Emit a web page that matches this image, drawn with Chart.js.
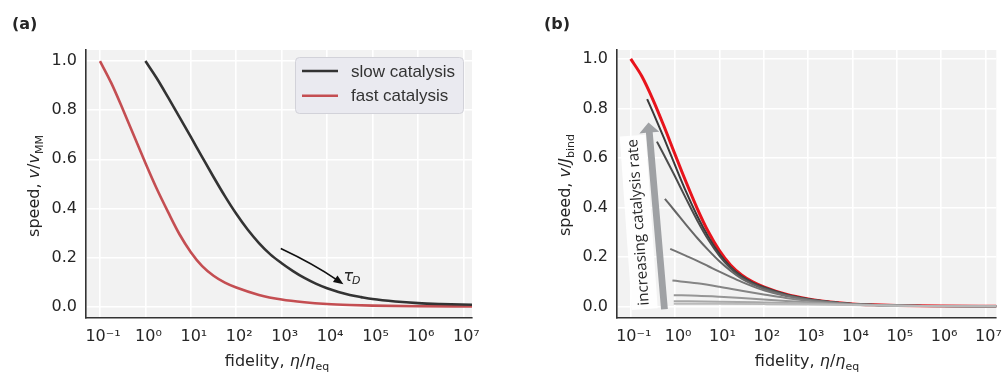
<!DOCTYPE html>
<html><head><meta charset="utf-8">
<script src="https://cdn.jsdelivr.net/npm/chart.js@4.4.0/dist/chart.umd.min.js"></script>
<style>
body{margin:0;background:#fff;width:1008px;height:373px;position:relative;overflow:hidden;font-family:"DejaVu Sans";color:#262626}
.pane{position:absolute;top:0;height:373px}
.lab{position:absolute;font-size:16px;line-height:20px;white-space:nowrap;text-align:center;height:20px}
.rot{transform:rotate(-90deg)}
sub{font-size:11px;vertical-align:-4px;line-height:0}
.panel{position:absolute;font-weight:bold;font-size:16px;line-height:18px}
</style></head><body>
<div class="pane" style="left:0;width:500px"><canvas id="ca" width="500" height="373"></canvas></div>
<div class="pane" style="left:500px;width:508px"><canvas id="cb" width="508" height="373"></canvas></div>
<div class="panel" style="left:12px;top:15px">(a)</div>
<div class="panel" style="left:544px;top:15px">(b)</div>
<div class="lab" style="left:127px;top:351px;width:300px">fidelity, <i>η</i>/<i>η</i><sub>eq</sub></div>
<div class="lab" style="left:657px;top:351px;width:300px">fidelity, <i>η</i>/<i>η</i><sub>eq</sub></div>
<div class="lab rot" style="left:-66.5px;top:175.5px;width:200px">speed, <i>v</i>/<i>v</i><sub>MM</sub></div>
<div class="lab rot" style="left:465px;top:175px;width:200px">speed, <i>v</i>/<i>J</i><sub>bind</sub></div>
<script>
// ---------- ticks ----------
const xTickExps = [-1, 0, 1, 2, 3, 4, 5, 6, 7];
const xTickLabels = ['10⁻¹','10⁰','10¹','10²','10³','10⁴','10⁵','10⁶','10⁷'];
const yTickValues = [0, 0.2, 0.4, 0.6, 0.8, 1.0];
const yTickLabels = ['0.0','0.2','0.4','0.6','0.8','1.0'];

// ---------- panel (a) data: x as log10(fidelity) ----------
const slowExp = [0, 0.25, 0.5, 0.75, 1.0, 1.25, 1.5, 1.75, 2.0, 2.25, 2.5, 2.75, 3.0, 3.25, 3.5, 3.75, 4.0, 4.25, 4.5, 4.75, 5.0, 5.5, 6.0, 6.5, 7.19];
const slowVal = [1.0, 0.93, 0.852, 0.772, 0.691, 0.609, 0.528, 0.45, 0.378, 0.314, 0.259, 0.213, 0.177, 0.145, 0.117, 0.094, 0.075, 0.06, 0.048, 0.039, 0.031, 0.021, 0.0145, 0.011, 0.008];
const fastExp = [-1, -0.75, -0.5, -0.25, 0, 0.25, 0.5, 0.75, 1.0, 1.25, 1.5, 1.75, 2.0, 2.5, 3.0, 3.5, 4.0, 4.5, 5.0, 6.0, 7.19];
const fastVal = [1.0, 0.91, 0.805, 0.695, 0.585, 0.48, 0.385, 0.295, 0.222, 0.165, 0.126, 0.098, 0.078, 0.048, 0.029, 0.018, 0.011, 0.007, 0.0045, 0.002, 0.001];

// ---------- panel (b) data ----------
const envExp = [-1, -0.75, -0.5, -0.25, 0, 0.25, 0.5, 0.75, 1.0, 1.25, 1.5, 1.75, 2.0, 2.5, 3.0, 3.5, 4.0, 4.5, 5.0, 6.0, 7.25];
const envVal = [1.0, 0.93, 0.836, 0.728, 0.614, 0.502, 0.396, 0.302, 0.226, 0.168, 0.128, 0.1, 0.08, 0.05, 0.031, 0.019, 0.011, 0.007, 0.0045, 0.002, 0.001];
const c1Exp = [-0.63, -0.5, -0.25, 0, 0.25, 0.5, 0.75, 1.0, 1.25, 1.5, 1.75, 2.0, 2.5, 3.0, 3.5, 4.0, 5.0, 6.0, 7.25];
const c1Val = [0.838, 0.785, 0.68, 0.57, 0.463, 0.366, 0.282, 0.213, 0.16, 0.123, 0.097, 0.078, 0.049, 0.0305, 0.0187, 0.0108, 0.0044, 0.002, 0.001];
const c2Exp = [-0.41, -0.25, 0, 0.25, 0.5, 0.75, 1.0, 1.25, 1.5, 1.75, 2.0, 2.5, 3.0, 3.5, 4.0, 5.0, 6.0, 7.25];
const c2Val = [0.666, 0.612, 0.525, 0.435, 0.348, 0.27, 0.205, 0.155, 0.119, 0.094, 0.076, 0.048, 0.03, 0.0185, 0.0107, 0.0044, 0.002, 0.001];
const c3Exp = [-0.23, 0, 0.25, 0.5, 0.75, 1.0, 1.25, 1.5, 1.75, 2.0, 2.5, 3.0, 3.5, 4.0, 5.0, 6.0, 7.25];
const c3Val = [0.435, 0.385, 0.33, 0.277, 0.228, 0.183, 0.145, 0.113, 0.09, 0.072, 0.046, 0.029, 0.018, 0.0105, 0.0043, 0.002, 0.001];
const c4Exp = [-0.11, 0.25, 0.5, 0.75, 1.0, 1.25, 1.5, 1.75, 2.0, 2.5, 3.0, 3.5, 4.0, 5.0, 6.0, 7.25];
const c4Val = [0.233, 0.205, 0.185, 0.163, 0.141, 0.12, 0.1, 0.082, 0.066, 0.043, 0.028, 0.0175, 0.0103, 0.0043, 0.002, 0.001];
const c5Exp = [-0.06, 0.5, 1.0, 1.5, 2.0, 2.5, 3.0, 3.5, 4.0, 5.0, 6.0, 7.25];
const c5Val = [0.105, 0.094, 0.08, 0.064, 0.049, 0.035, 0.024, 0.016, 0.0098, 0.0042, 0.002, 0.001];
const c6Exp = [-0.03, 0.5, 1.0, 1.5, 2.0, 2.5, 3.0, 3.5, 4.0, 5.0, 6.0, 7.25];
const c6Val = [0.046, 0.044, 0.04, 0.035, 0.029, 0.023, 0.0175, 0.0125, 0.0085, 0.004, 0.0019, 0.001];
const c7Exp = [-0.03, 1, 2, 3, 4, 5, 6, 7.25];
const c7Val = [0.022, 0.02, 0.0165, 0.0125, 0.0075, 0.0036, 0.0018, 0.001];
const c8Exp = [-0.03, 1, 2, 3, 4, 5, 6, 7.25];
const c8Val = [0.012, 0.0113, 0.0101, 0.0085, 0.006, 0.0032, 0.0017, 0.001];
const grayColors = ['#3a3a3a','#4c4c4c','#666666','#747474','#858585','#969696','#a8a8a8','#bababa'];

// annotation anchors in data coords [log10 x, y]
const tauArrowStart = [2.98, 0.237], tauArrowEnd = [4.36, 0.091], tauLabelPos = [4.36, 0.105];
const bigArrowStart = [-0.24, -0.011], bigArrowTip = [-0.6, 0.743], rateLabelPos = [-0.82, 0.34];

const pts = (ex, vs) => ex.map((e, i) => ({x: Math.pow(10, e), y: vs[i]}));
const FONT = {family: 'DejaVu Sans', size: 16};

function xScale(minE, maxE) {
  return {
    type: 'logarithmic', min: Math.pow(10, minE), max: Math.pow(10, maxE),
    afterBuildTicks(s) { s.ticks = xTickExps.map(e => ({value: Math.pow(10, e)})); },
    ticks: {callback: (v, i) => xTickLabels[i], font: FONT, color: '#262626', padding: 9,
            maxRotation: 0, autoSkip: false, labelOffset: 3},
    grid: {color: '#ffffff', lineWidth: 1.6, drawTicks: false},
    border: {display: true, color: '#333333', width: 1.6},
    afterFit(s) { s.height = 55; }
  };
}
function yScale(maxV, w) {
  return {
    type: 'linear', min: -0.046, max: maxV,
    afterBuildTicks(s) { s.ticks = yTickValues.map(v => ({value: v})); },
    ticks: {callback: (v, i) => yTickLabels[i], font: FONT, color: '#262626', padding: 9},
    grid: {color: '#ffffff', lineWidth: 1.6, drawTicks: false},
    border: {display: true, color: '#333333', width: 1.6},
    afterFit(s) { s.width = w; }
  };
}
const bgPlugin = {
  id: 'bg',
  beforeDraw(chart) {
    const {ctx, chartArea: a} = chart;
    ctx.save(); ctx.fillStyle = '#f2f2f2';
    ctx.fillRect(a.left, a.top, a.right - a.left, a.bottom - a.top); ctx.restore();
  }
};
function px(chart, p) {
  return {x: chart.scales.x.getPixelForValue(Math.pow(10, p[0])), y: chart.scales.y.getPixelForValue(p[1])};
}
const annA = {
  id: 'annA',
  afterDraw(chart) {
    const ctx = chart.ctx, a = chart.chartArea;
    // tau arrow
    const s = px(chart, tauArrowStart), e = px(chart, tauArrowEnd);
    const mx = (s.x + e.x) / 2, my = (s.y + e.y) / 2;
    const cx = mx + 1.5, cy = my - 2.5;
    ctx.save();
    ctx.strokeStyle = '#111'; ctx.lineWidth = 1.6;
    const dx = e.x - cx, dy = e.y - cy, L = Math.hypot(dx, dy), ux = dx / L, uy = dy / L;
    const hl = 10, hw = 4;
    const bx = e.x - ux * hl, by = e.y - uy * hl;
    ctx.beginPath(); ctx.moveTo(s.x, s.y); ctx.quadraticCurveTo(cx, cy, bx + ux * 2, by + uy * 2); ctx.stroke();
    ctx.fillStyle = '#111';
    ctx.beginPath(); ctx.moveTo(e.x, e.y);
    ctx.lineTo(bx - uy * hw, by + ux * hw); ctx.lineTo(bx + uy * hw, by - ux * hw); ctx.closePath(); ctx.fill();
    // tau_D label
    const t = px(chart, tauLabelPos);
    ctx.fillStyle = '#262626'; ctx.textBaseline = 'alphabetic'; ctx.textAlign = 'left';
    ctx.font = 'italic 16px "DejaVu Sans"';
    ctx.fillText('τ', t.x, t.y);
    const tw = ctx.measureText('τ').width;
    ctx.font = 'italic 11px "DejaVu Sans"';
    ctx.fillText('D', t.x + tw - 1, t.y + 3);
    // legend
    const lx = a.right - 177, ly = a.top + 7, w = 168, h = 56;
    ctx.beginPath(); ctx.roundRect(lx + 0.5, ly + 0.5, w, h, 4);
    ctx.fillStyle = 'rgba(233,233,239,0.95)'; ctx.fill();
    ctx.strokeStyle = '#d2d2d9'; ctx.lineWidth = 1; ctx.stroke();
    const items = [['slow catalysis', chart.data.datasets[0].borderColor], ['fast catalysis', chart.data.datasets[1].borderColor]];
    items.forEach((it, i) => {
      const yy = ly + 14 + i * 24.7;
      ctx.strokeStyle = it[1]; ctx.lineWidth = 2.6;
      ctx.beginPath(); ctx.moveTo(lx + 7, yy); ctx.lineTo(lx + 43, yy); ctx.stroke();
      ctx.fillStyle = '#333'; ctx.font = '17px "Liberation Sans"'; ctx.textBaseline = 'middle';
      ctx.fillText(it[0], lx + 56, yy + 1);
    });
    ctx.restore();
  }
};
const annB = {
  id: 'annB',
  beforeDatasetsDraw(chart) {
    const ctx = chart.ctx;
    const S = px(chart, bigArrowStart), T = px(chart, bigArrowTip);
    const dx = T.x - S.x, dy = T.y - S.y, L = Math.hypot(dx, dy), ux = dx / L, uy = dy / L, nx = -uy, ny = ux;
    const sw = 3.4, hw = 10, hl = 10;
    const bx = T.x - ux * hl, by = T.y - uy * hl;
    ctx.save();
    ctx.fillStyle = '#9fa1a4';
    ctx.beginPath();
    ctx.moveTo(S.x + nx * sw, S.y + ny * sw);
    ctx.lineTo(bx + nx * sw, by + ny * sw);
    ctx.lineTo(bx + nx * hw, by + ny * hw);
    ctx.lineTo(T.x, T.y);
    ctx.lineTo(bx - nx * hw, by - ny * hw);
    ctx.lineTo(bx - nx * sw, by - ny * sw);
    ctx.lineTo(S.x - nx * sw, S.y - ny * sw);
    ctx.closePath(); ctx.fill();
    // label box
    const C = px(chart, rateLabelPos);
    ctx.translate(C.x, C.y); ctx.rotate(-94 * Math.PI / 180);
    ctx.fillStyle = 'rgba(255,255,255,0.88)';
    ctx.fillRect(-87, -13, 174, 26);
    ctx.font = '14px "Open Sans"';
    const txt = 'increasing catalysis rate';
    const fs = 14 * 167 / ctx.measureText(txt).width;
    ctx.font = fs.toFixed(2) + 'px "Open Sans"';
    ctx.fillStyle = '#262626'; ctx.textAlign = 'center'; ctx.textBaseline = 'middle';
    ctx.fillText(txt, 0, 0);
    ctx.restore();
  }
};
const common = (padRight) => ({
  responsive: false, animation: false, devicePixelRatio: 1, events: [],
  layout: {padding: {left: 0, right: padRight, top: 50, bottom: 0}},
  plugins: {legend: {display: false}, tooltip: {enabled: false}}
});
const lineDs = (ex, vs, color, w) => ({data: pts(ex, vs), borderColor: color, borderWidth: w,
  pointRadius: 0, fill: false, cubicInterpolationMode: 'monotone'});

new Chart(document.getElementById('ca'), {
  type: 'line',
  data: {datasets: [
    lineDs(slowExp, slowVal, '#333333', 2.6),
    lineDs(fastExp, fastVal, '#c44e52', 2.6)
  ]},
  options: Object.assign(common(28), {scales: {x: xScale(-1.308, 7.19), y: yScale(1.045, 86)}}),
  plugins: [bgPlugin, annA]
});

const grays = [[c1Exp, c1Val], [c2Exp, c2Val], [c3Exp, c3Val], [c4Exp, c4Val], [c5Exp, c5Val], [c6Exp, c6Val], [c7Exp, c7Val], [c8Exp, c8Val]];
new Chart(document.getElementById('cb'), {
  type: 'line',
  data: {datasets: grays.slice().reverse().map((g, i) => lineDs(g[0], g[1], grayColors[grays.length - 1 - i], 2))
    .concat([lineDs(envExp, envVal, '#e8141c', 3)])},
  options: Object.assign(common(5), {scales: {x: xScale(-1.31, 7.244), y: yScale(1.036, 117)}}),
  plugins: [bgPlugin, annB]
});
</script>
</body></html>
